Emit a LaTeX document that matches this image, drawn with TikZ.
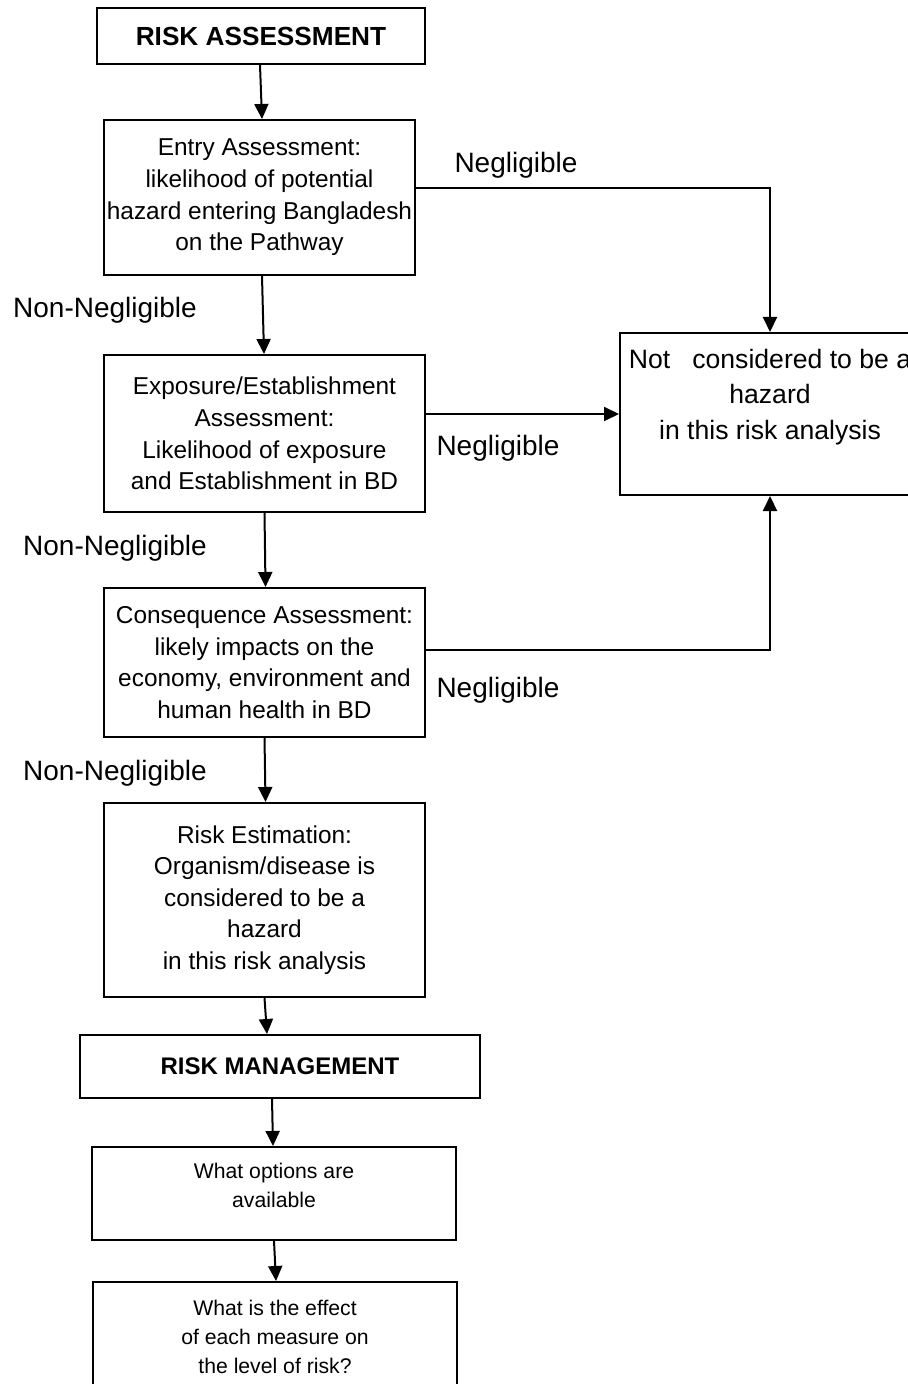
\documentclass[tikz,border=0pt]{standalone}
\usepackage{fontspec}
\setmainfont{Liberation Sans}
\usetikzlibrary{arrows.meta}
\begin{document}
\begin{tikzpicture}[x=0.5pt,y=-0.5pt,
  box/.style={draw,line width=1pt,align=center,inner sep=0pt},
  txt/.style={font=\fontsize{12.2}{15.8}\selectfont},
  small/.style={font=\fontsize{10.6}{14.5}\selectfont},
  title/.style={font=\fontsize{13.1}{16}\selectfont\bfseries},
  lbl/.style={font=\fontsize{14}{17}\selectfont,inner sep=0pt},
  arr/.style={line width=1pt,-{Triangle[length=7.5pt,width=7pt]}}]
\useasboundingbox (0,0) rectangle (907,1384);

\node[box,title,minimum width=164pt,minimum height=28pt] (ra) at (261,36) {RISK ASSESSMENT};
\node[box,txt,minimum width=155.5pt,minimum height=77.5pt] (entry) at (259.5,197.5)
  {Entry Assessment:\\likelihood of potential\\hazard entering Bangladesh\\on the Pathway};
\node[box,txt,minimum width=160.5pt,minimum height=78.5pt] (expo) at (264.5,433.5)
  {Exposure/Establishment\\Assessment:\\Likelihood of exposure\\and Establishment in BD};
\node[box,txt,minimum width=160.5pt,minimum height=74.5pt] (cons) at (264.5,662.5)
  {Consequence Assessment:\\likely impacts on the\\economy, environment and\\human health in BD};
\node[box,txt,minimum width=160.5pt,minimum height=97pt] (est) at (264.5,900)
  {Risk Estimation:\\Organism/disease is\\considered to be a\\hazard\\in this risk analysis};
\node[box,font=\fontsize{12}{15}\selectfont\bfseries,minimum width=200pt,minimum height=31.5pt] (rm) at (280,1066.5) {RISK MANAGEMENT};
\node[box,small,minimum width=182pt,minimum height=46.5pt] (opts) at (274,1193.5)
  {What options are\\available\\[-6pt]};
\node[box,small,minimum width=182pt,minimum height=55pt] (eff) at (275,1337)
  {What is the effect\\of each measure on\\the level of risk?};

\node[box,minimum width=150pt,minimum height=81pt] (notb) at (770,414) {};
\node[align=center,font=\fontsize{13.3}{17.75}\selectfont,inner sep=0pt] (nott) at (770,397)
  {Not\ \ \ considered to be a\\hazard\\in this risk analysis};

\node[lbl] (n1) at (516,165) {Negligible};
\node[lbl] (n2) at (498,448) {Negligible};
\node[lbl] (n3) at (498,690) {Negligible};
\node[lbl] (nn1) at (105,310) {Non-Negligible};
\node[lbl] (nn2) at (115,548) {Non-Negligible};
\node[lbl] (nn3) at (115,773) {Non-Negligible};

\draw[arr] ([xshift=-0.5pt]ra.south) -- ([xshift=1.25pt]entry.north);
\draw[arr] ([xshift=1.25pt]entry.south) -- ([xshift=-0.25pt]expo.north);
\draw[arr] (expo.south) -- ([xshift=0.5pt]cons.north);
\draw[arr] (cons.south) -- ([xshift=0.5pt]est.north);
\draw[arr] (est.south) -- ([xshift=-6.5pt]rm.north);
\draw[arr] ([xshift=-4pt]rm.south) -- ([xshift=-0.5pt]opts.north);
\draw[arr] (opts.south) -- ([xshift=0.5pt]eff.north);

\draw[arr] ([yshift=4.75pt]entry.east) -| (notb.north);
\draw[arr] (expo.east |- notb.west) -- (notb.west);
\draw[arr] ([yshift=6.25pt]cons.east) -| (notb.south);
\end{tikzpicture}
\end{document}
